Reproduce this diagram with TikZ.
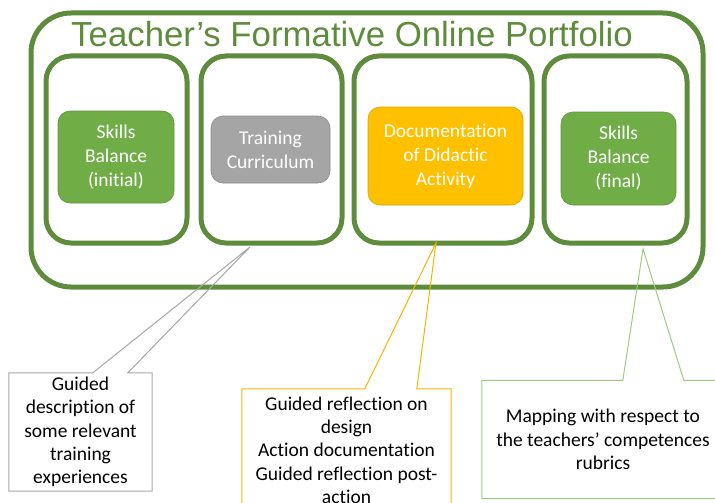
\documentclass[tikz,border=0pt]{standalone}
\usepackage{fontspec}
\setmainfont{Carlito}[Ligatures=NoCommon]
\newfontfamily\titlefont{Liberation Sans}
\definecolor{frameGreen}{HTML}{5E8C3C}
\definecolor{fillGreen}{HTML}{70AD47}
\definecolor{fillGray}{HTML}{A5A5A5}
\definecolor{fillYellow}{HTML}{FFC000}
\definecolor{lineGray}{HTML}{A6A6A6}
\definecolor{lineYellow}{HTML}{F2B600}
\definecolor{lineGreen}{HTML}{9DCB7F}

\begin{document}
\begin{tikzpicture}[x=1pt, y=-1pt,
    portfolio/.style={draw=frameGreen, line width=5pt, rounded corners=40pt, minimum width=672pt, minimum height=274pt},
    stage/.style={draw=frameGreen, line width=5pt, rounded corners=25pt, minimum height=187pt},
    item/.style={rounded corners=12pt, text=white, align=center, font=\fontsize{19.5}{24}\selectfont, line width=0.6pt},
    note/.style={align=center, font=\fontsize{19.5}{23.3}\selectfont, inner sep=0pt},
    callout/.style={line width=1pt, line join=miter}]
    \useasboundingbox (0,0) rectangle (715,503);
    \clip (0,0) rectangle (715,503);

    % outer frame and title
    \node[portfolio] (frame) at (367,150) {};
    \node[anchor=base, text=frameGreen, font=\titlefont\fontsize{34.8}{38}\selectfont, inner sep=0pt] (title) at (352,47) {Teacher’s Formative Online Portfolio};

    % the four stages
    \foreach \n/\x/\w in {stageA/116.5/141, stageB/271.5/141, stageC/443/178, stageD/615.5/143} {
        \node[stage, minimum width=\w pt] (\n) at (\x,149.5) {};
      }

    \node[item, fill=fillGreen, draw=fillGreen!85!black, minimum width=116pt, minimum height=92pt] (sbi) at (116,157) {Skills\\Balance\\(initial)};
    \node[item, fill=fillGray, draw=fillGray!85!black, minimum width=119pt, minimum height=67pt] (tc) at (270.5,149.5) {Training\\Curriculum};
    \node[item, fill=fillYellow, draw=fillYellow!85!black, minimum width=155pt, minimum height=98pt] (dda) at (445.5,156) {Documentation\\of Didactic\\Activity};
    \node[item, fill=fillGreen, draw=fillGreen!85!black, minimum width=115pt, minimum height=93pt] (sbf) at (618.5,158.5) {Skills\\Balance\\(final)};

    % callouts
    \node[note, minimum width=143pt, minimum height=118pt] (guided) at (80.5,432) {Guided\\description of\\some relevant\\training\\experiences};
    \node[note, minimum width=209pt, minimum height=122pt] (reflect) at (346.5,450) {Guided reflection on\\design\\Action documentation\\Guided reflection post-\\action};
    \node[note, minimum width=242pt, minimum height=118pt] (mapping) at (603,439.5) {Mapping with respect to\\the teachers’ competences\\rubrics};

    \coordinate (tipB) at (250,247);
    \coordinate (tipC) at (436,243);
    \coordinate (tipD) at (643,249);

    \draw[callout, draw=lineGray] (guided.north west) -- ([xshift=84pt]guided.north west) -- (tipB) -- ([xshift=119pt]guided.north west) -- (guided.north east) -- (guided.south east) -- (guided.south west) -- cycle;
    \draw[callout, draw=lineYellow] (reflect.north west) -- ([xshift=123pt]reflect.north west) -- (tipC) -- ([xshift=175pt]reflect.north west) -- (reflect.north east) -- (reflect.south east) -- (reflect.south west) -- cycle;
    \draw[callout, draw=lineGreen] (mapping.north west) -- ([xshift=141pt]mapping.north west) -- (tipD) -- ([xshift=202pt]mapping.north west) -- (mapping.north east) -- (mapping.south east) -- (mapping.south west) -- cycle;
\end{tikzpicture}
\end{document}
